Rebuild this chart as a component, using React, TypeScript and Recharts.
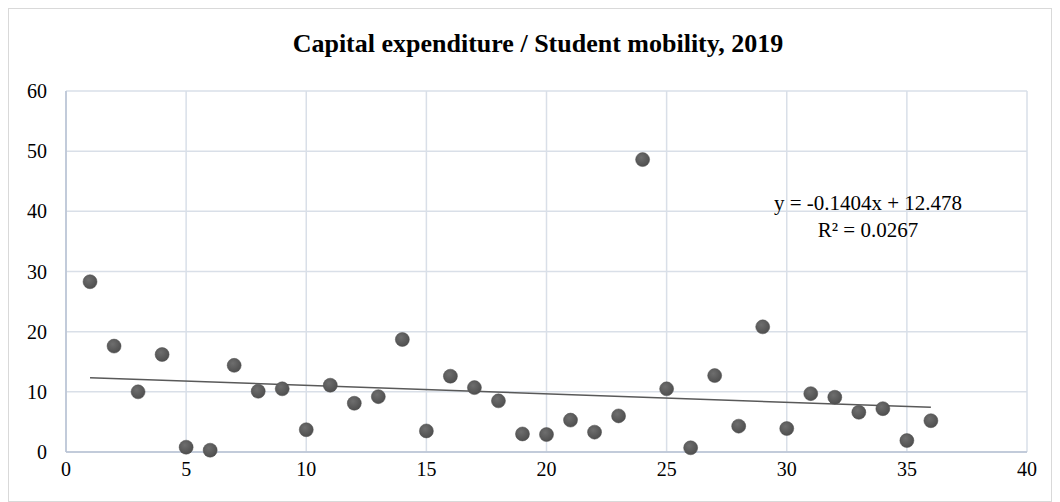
import React from 'react';
import { ScatterChart, Scatter, XAxis, YAxis, CartesianGrid, ReferenceLine } from 'recharts';

const countryIndex = [
  1, 2, 3, 4, 5, 6, 7, 8, 9, 10, 11, 12, 13, 14, 15, 16, 17, 18,
  19, 20, 21, 22, 23, 24, 25, 26, 27, 28, 29, 30, 31, 32, 33, 34, 35, 36,
];
const capexValues = [
  28.3, 17.6, 10.0, 16.2, 0.8, 0.3, 14.4, 10.1, 10.5, 3.7, 11.1, 8.1, 9.2, 18.7, 3.5, 12.6, 10.7, 8.5,
  3.0, 2.9, 5.3, 3.3, 6.0, 48.6, 10.5, 0.7, 12.7, 4.3, 20.8, 3.9, 9.7, 9.1, 6.6, 7.2, 1.9, 5.2,
];
const xTicks = [0, 5, 10, 15, 20, 25, 30, 35, 40];
const yTicks = [0, 10, 20, 30, 40, 50, 60];

// trendline from the equation printed on the chart
const trendSlope = -0.1404;
const trendIntercept = 12.478;
const trendLabel = 'y = -0.1404x + 12.478';
const r2Label = 'R² = 0.0267';

const points = countryIndex.map((x, i) => ({ x, y: capexValues[i] }));
const xFirst = countryIndex[0];
const xLast = countryIndex[countryIndex.length - 1];

const serif = '"Liberation Serif", "Times New Roman", serif';
const tickStyle = { fontFamily: serif, fontSize: 20, fill: '#000' };

const Dot = (props: any) => (
  <circle cx={props.cx} cy={props.cy} r={7} fill="url(#dotGrad)" stroke="#4d4d4d" strokeWidth={0.5} />
);

const App = () => {
  return (
    <div
      style={{
        position: 'relative',
        width: 1044,
        height: 494,
        border: '1px solid #d9d9d9',
        boxSizing: 'border-box',
        background: '#fff',
      }}
    >
      <div
        style={{
          position: 'absolute',
          left: 0,
          width: 1058,
          top: 20,
          textAlign: 'center',
          fontFamily: serif,
          fontWeight: 'bold',
          fontSize: 26,
          lineHeight: '30px',
          color: '#000',
        }}
      >
        Capital expenditure / Student mobility, 2019
      </div>
      <ScatterChart width={1042} height={492} margin={{ top: 82, right: 24, bottom: 19, left: 0 }}>
        <defs>
          <radialGradient id="dotGrad" cx="40%" cy="35%" r="65%">
            <stop offset="0%" stopColor="#6e6e6e" />
            <stop offset="100%" stopColor="#4f4f4f" />
          </radialGradient>
        </defs>
        <CartesianGrid stroke="#d9dfe8" strokeWidth={1.5} />
        <XAxis
          type="number"
          dataKey="x"
          domain={[0, 40]}
          ticks={xTicks}
          interval={0}
          tick={tickStyle}
          tickLine={false}
          tickSize={0}
          tickMargin={10}
          height={30}
          axisLine={{ stroke: '#b7c2d3', strokeWidth: 1.5 }}
        />
        <YAxis
          type="number"
          dataKey="y"
          domain={[0, 60]}
          ticks={yTicks}
          interval={0}
          tick={tickStyle}
          tickLine={false}
          tickSize={0}
          tickMargin={19}
          width={57}
          axisLine={{ stroke: '#b7c2d3', strokeWidth: 1.5 }}
        />
        <ReferenceLine
          segment={[
            { x: xFirst, y: trendSlope * xFirst + trendIntercept },
            { x: xLast, y: trendSlope * xLast + trendIntercept },
          ]}
          stroke="#595959"
          strokeWidth={1.5}
          ifOverflow="visible"
        />
        <Scatter data={points} shape={<Dot />} isAnimationActive={false} />
      </ScatterChart>
      <div
        style={{
          position: 'absolute',
          left: 759,
          width: 200,
          top: 181,
          textAlign: 'center',
          fontFamily: serif,
          fontSize: 21,
          lineHeight: '27px',
          color: '#000',
        }}
      >
        <div>{trendLabel}</div>
        <div>{r2Label}</div>
      </div>
    </div>
  );
};

export default App;
